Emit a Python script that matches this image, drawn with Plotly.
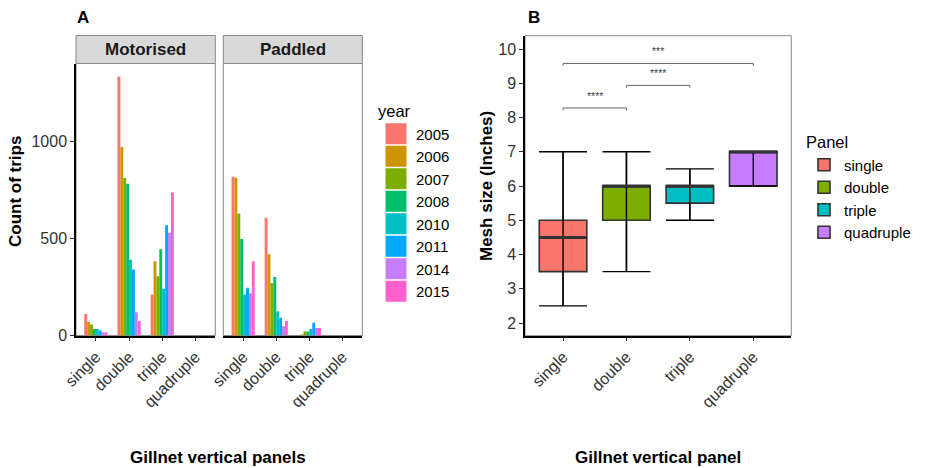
import plotly.graph_objects as go

W, H = 929, 468
FONT = "Liberation Sans, Arial, sans-serif"

# ---------------- data ----------------
panels = ["single", "double", "triple", "quadruple"]
years = ["2005", "2006", "2007", "2008", "2010", "2011", "2014", "2015"]
year_colors = ["#F8766D", "#CD9600", "#7CAE00", "#00BE67", "#00BFC4", "#00A9FF", "#C77CFF", "#FF61CC"]

# count of trips per year for each panel category (single, double, triple, quadruple)
motorised = {
    "2005": [110, 1332, 211, 0],
    "2006": [70, 969, 382, 0],
    "2007": [56, 810, 305, 0],
    "2008": [34, 781, 443, 0],
    "2010": [34, 390, 241, 0],
    "2011": [26, 339, 567, 0],
    "2014": [17, 120, 529, 0],
    "2015": [17, 75, 736, 0],
}
paddled = {
    "2005": [817, 606, 0, 0],
    "2006": [811, 418, 5, 0],
    "2007": [627, 270, 20, 0],
    "2008": [496, 301, 20, 0],
    "2010": [211, 125, 33, 0],
    "2011": [246, 91, 65, 0],
    "2014": [217, 48, 39, 0],
    "2015": [382, 75, 39, 0],
}
count_ticks = [0, 500, 1000]

panel_colors = ["#F8766D", "#7CAE00", "#00BFC4", "#C77CFF"]
mesh_lower = [2.5, 3.5, 5.0, 6.0]
mesh_q1 = [3.5, 5.0, 5.5, 6.0]
mesh_median = [4.5, 6.0, 6.0, 7.0]
mesh_q3 = [5.0, 6.0, 6.0, 7.0]
mesh_upper = [7.0, 7.0, 6.5, 7.0]
mesh_ticks = [2, 3, 4, 5, 6, 7, 8, 9, 10]

sig_from = [0, 1, 0]
sig_to = [1, 2, 3]
sig_y = [8.28, 8.94, 9.58]
sig_labels = ["****", "****", "***"]

# ---------------- layout helpers ----------------
def fx(px):
    return px / W

def fy(py):
    return 1 - py / H

A1 = (76, 215.3)
A2 = (223.3, 362.3)
AY = (63.5, 335.5)
STRIP = (35.5, 63.5)
B = (525, 791.3)
BY = (35.7, 335.7)
LEGFONT = 15

fig = go.Figure()

for i, yr in enumerate(years):
    fig.add_trace(go.Bar(
        x=panels, y=motorised[yr], name=yr, marker=dict(color=year_colors[i], line=dict(width=0)),
        xaxis="x", yaxis="y", legendgroup=yr, showlegend=False,
    ))
for i, yr in enumerate(years):
    fig.add_trace(go.Bar(
        x=panels, y=paddled[yr], name=yr, marker=dict(color=year_colors[i], line=dict(width=0)),
        xaxis="x2", yaxis="y", legendgroup=yr, showlegend=False,
    ))
# legend keys for the years (large filled squares, like ggplot's)
for i, yr in enumerate(years):
    fig.add_trace(go.Scatter(
        x=[None], y=[None], mode="markers", name=yr,
        marker=dict(symbol="square", size=16, color=year_colors[i],
                    line=dict(width=5, color=year_colors[i])),
        xaxis="x", yaxis="y", legend="legend", legendgroup=yr, showlegend=True,
    ))

for i, p in enumerate(panels):
    fig.add_trace(go.Box(
        x=[p], q1=[mesh_q1[i]], median=[mesh_median[i]], q3=[mesh_q3[i]],
        lowerfence=[mesh_lower[i]], upperfence=[mesh_upper[i]],
        name=p, fillcolor=panel_colors[i], line=dict(color="#333333", width=1.6),
        width=0.75, whiskerwidth=0, boxpoints=False,
        xaxis="x3", yaxis="y3", legend="legend2", showlegend=True,
    ))

fig.add_trace(go.Scatter(
    x=panels, y=mesh_median, mode="markers",
    marker=dict(symbol="line-ew", size=34.5, color="#333333", line=dict(width=3, color="#333333")),
    error_y=dict(type="data", symmetric=False,
                 array=[u - m for u, m in zip(mesh_upper, mesh_median)],
                 arrayminus=[m - l for m, l in zip(mesh_median, mesh_lower)],
                 width=24, thickness=1.4, color="black"),
    xaxis="x3", yaxis="y3", showlegend=False, hoverinfo="skip",
))

tickfont = dict(family=FONT, size=16, color="#333333")
xcommon = dict(type="category", categoryorder="array", categoryarray=panels,
               range=[-0.6, 3.6], tickangle=-45, tickfont=tickfont, automargin=False,
               ticks="outside", ticklen=4, tickcolor="#333333", tickwidth=1,
               showline=True, linecolor="black", linewidth=1.5, showgrid=False, zeroline=False)

shapes = []
annotations = []

# panel borders (grey) and strips
for (x0, x1), label in [(A1, "Motorised"), (A2, "Paddled")]:
    shapes.append(dict(type="rect", xref="paper", yref="paper", x0=fx(x0), x1=fx(x1),
                       y0=fy(AY[1]), y1=fy(AY[0]), line=dict(color="#888888", width=1), layer="below"))
    shapes.append(dict(type="rect", xref="paper", yref="paper", x0=fx(x0), x1=fx(x1),
                       y0=fy(STRIP[1]), y1=fy(STRIP[0]), fillcolor="#D9D9D9",
                       line=dict(color="#888888", width=1)))
    annotations.append(dict(text="<b>%s</b>" % label, xref="paper", yref="paper",
                            x=fx((x0 + x1) / 2), y=fy((STRIP[0] + STRIP[1]) / 2),
                            showarrow=False, font=dict(family=FONT, size=17, color="#1A1A1A"),
                            xanchor="center", yanchor="middle"))
shapes.append(dict(type="rect", xref="paper", yref="paper", x0=fx(B[0]), x1=fx(B[1]),
                   y0=fy(BY[1]), y1=fy(BY[0]), line=dict(color="#888888", width=1), layer="below"))

# significance brackets
for a, b, yv, lab in zip(sig_from, sig_to, sig_y, sig_labels):
    for xa, xb, ya, yb in [(a, b, yv, yv), (a, a, yv - 0.07, yv), (b, b, yv - 0.07, yv)]:
        shapes.append(dict(type="line", xref="x3", yref="y3", x0=xa, x1=xb, y0=ya, y1=yb,
                           line=dict(color="#666666", width=1)))
    annotations.append(dict(text=lab, xref="x3", yref="y3", x=(a + b) / 2, y=yv + 0.12,
                            showarrow=False, yanchor="bottom",
                            font=dict(family=FONT, size=10.5, color="#444444")))

# titles
title_font = dict(family=FONT, size=17, color="black")
annotations += [
    dict(text="<b>A</b>", xref="paper", yref="paper", x=fx(75), y=fy(18), xanchor="left",
         yanchor="middle", showarrow=False, font=title_font),
    dict(text="<b>B</b>", xref="paper", yref="paper", x=fx(526), y=fy(18), xanchor="left",
         yanchor="middle", showarrow=False, font=title_font),
    dict(text="<b>Gillnet vertical panels</b>", xref="paper", yref="paper", x=fx(218), y=fy(457),
         xanchor="center", yanchor="middle", showarrow=False, font=title_font),
    dict(text="<b>Gillnet vertical panel</b>", xref="paper", yref="paper", x=fx(658), y=fy(457),
         xanchor="center", yanchor="middle", showarrow=False, font=title_font),
    dict(text="<b>Count of trips</b>", xref="paper", yref="paper", x=fx(15), y=fy(192),
         xanchor="center", yanchor="middle", textangle=-90, showarrow=False, font=title_font),
    dict(text="<b>Mesh size (Inches)</b>", xref="paper", yref="paper", x=fx(487), y=fy(186),
         xanchor="center", yanchor="middle", textangle=-90, showarrow=False, font=title_font),
]

fig.update_layout(
    width=W, height=H, margin=dict(l=0, r=0, t=0, b=0, autoexpand=False),
    paper_bgcolor="white", plot_bgcolor="white",
    font=dict(family=FONT, color="black"),
    barmode="group", bargap=0.3, bargroupgap=0,
    boxmode="overlay",
    xaxis=dict(domain=[fx(A1[0]), fx(A1[1])], anchor="y", **xcommon),
    xaxis2=dict(domain=[fx(A2[0]), fx(A2[1])], anchor="y", **xcommon),
    yaxis=dict(domain=[fy(AY[1]), fy(AY[0])], anchor="x", range=[0, 1399], automargin=False,
               tickvals=count_ticks, tickfont=tickfont, ticks="outside", ticklen=4,
               tickcolor="#333333", showline=True, linecolor="black", linewidth=1.5,
               showgrid=False, zeroline=False),
    xaxis3=dict(domain=[fx(B[0]), fx(B[1])], anchor="y3", **xcommon),
    yaxis3=dict(domain=[fy(BY[1]), fy(BY[0])], anchor="x3", range=[1.63, 10.39], automargin=False,
                tickvals=mesh_ticks, tickfont=tickfont, ticks="outside", ticklen=4,
                tickcolor="#333333", showline=True, linecolor="black", linewidth=1.5,
                showgrid=False, zeroline=False),
    legend=dict(x=fx(376), y=fy(96), xanchor="left", yanchor="top",
                title=dict(text="year", font=dict(family=FONT, size=16.5)),
                font=dict(family=FONT, size=LEGFONT), bgcolor="rgba(0,0,0,0)",
                tracegroupgap=0, itemclick=False, itemsizing="trace"),
    legend2=dict(x=fx(804), y=fy(127), xanchor="left", yanchor="top",
                 title=dict(text="Panel", font=dict(family=FONT, size=16.5)),
                 font=dict(family=FONT, size=LEGFONT), bgcolor="rgba(0,0,0,0)",
                 tracegroupgap=0),
    shapes=shapes, annotations=annotations, showlegend=True,
)

fig.write_html("out.html")
